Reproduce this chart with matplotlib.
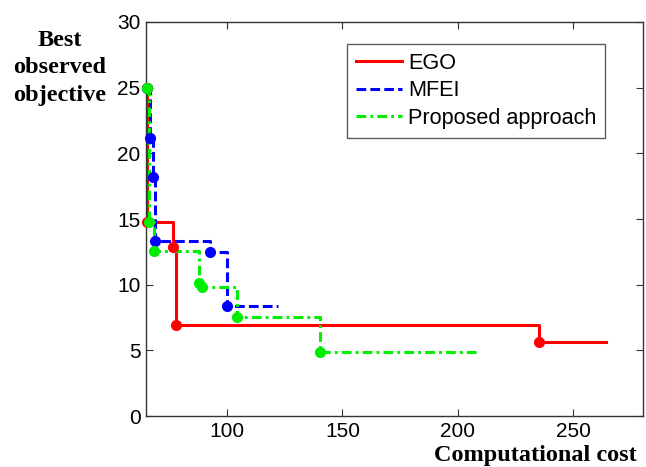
import matplotlib
matplotlib.use("Agg")
import matplotlib.pyplot as plt

ego_cost = [65.3, 65.6, 76.8, 78.0, 234.9, 264.2]
ego_best = [25.0, 14.8, 12.9, 6.95, 5.66, 5.66]

mfei_cost = [65.3, 66.7, 68.0, 68.8, 92.5, 100.0, 122.2]
mfei_best = [25.0, 21.15, 18.2, 13.3, 12.5, 8.4, 8.4]

prop_cost = [65.3, 66.3, 68.4, 87.8, 89.2, 104.3, 140.2, 208.4]
prop_best = [25.0, 14.8, 12.6, 10.1, 9.85, 7.55, 4.9, 4.9]

x_ticks = [100, 150, 200, 250]
y_ticks = [0, 5, 10, 15, 20, 25, 30]

plt.rcParams['lines.scale_dashes'] = False
sans = ['Liberation Sans', 'DejaVu Sans']
serif = ['Liberation Serif', 'DejaVu Serif']

fig = plt.figure(figsize=(6.46, 4.67), dpi=100)
ax = fig.add_axes([0.226, 0.109, 0.769, 0.844])

series = [
    (ego_cost, ego_best, '#ff0000', '-', None, 'EGO'),
    (mfei_cost, mfei_best, '#0000ff', '--', (7, 3), 'MFEI'),
    (prop_cost, prop_best, '#00ee00', '-.', (7, 3, 2, 3), 'Proposed approach'),
]

for cost, best, col, ls, dash, name in series:
    line, = ax.plot(cost, best, color=col, linestyle=ls, lw=2.2,
                    drawstyle='steps-post', label=name)
    if dash is not None:
        line.set_dashes(dash)
    # markers on every improvement, not on the final point
    ax.plot(cost[:-1], best[:-1], 'o', color=col, ms=7, clip_on=False, zorder=3)

ax.set_xlim(65, 280)
ax.set_ylim(0, 30)
ax.set_xticks(x_ticks)
ax.set_yticks(y_ticks)
ax.tick_params(direction='in', length=5, width=0.8, top=True, right=True,
               labelsize=15, colors='#333333', labelcolor='black', pad=4)
for lab in ax.get_xticklabels() + ax.get_yticklabels():
    lab.set_family(sans)
for sp in ax.spines.values():
    sp.set_color('#333333')
    sp.set_linewidth(1.0)

leg = ax.legend(loc='upper left', bbox_to_anchor=(0.537, 0.906), bbox_transform=fig.transFigure,
                prop={'family': sans, 'size': 15.6}, borderaxespad=0,
                frameon=True, fancybox=False, edgecolor='#333333', borderpad=0.42,
                handlelength=2.1, handletextpad=0.3, labelspacing=0.3)
leg.get_frame().set_linewidth(1.0)

fig.text(0.093, 0.855, 'Best\nobserved\nobjective', ha='center', va='center',
         family=serif, weight='bold', fontsize=17.5, linespacing=1.4)
fig.text(0.985, 0.003, 'Computational cost', ha='right', va='bottom',
         family=serif, weight='bold', fontsize=17.5)

fig.savefig('out.png', dpi=100)
